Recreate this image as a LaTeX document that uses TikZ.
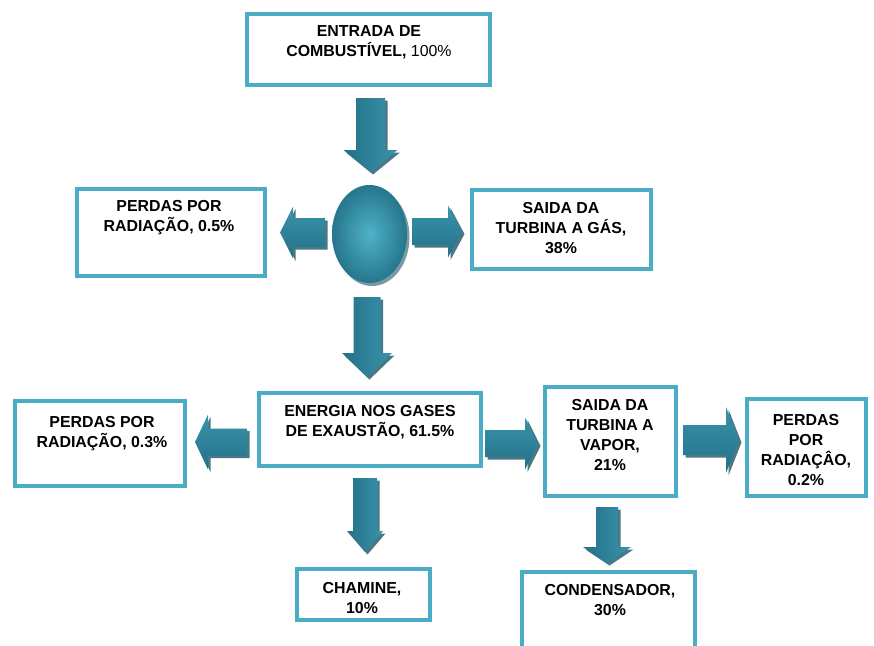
\documentclass[tikz,border=0pt]{standalone}
\usepackage{fontspec}
\setmainfont{Liberation Sans}
\usetikzlibrary{shapes.geometric}
\definecolor{boxc}{RGB}{75,172,198}
\definecolor{arrdark}{RGB}{36,112,134}
\definecolor{arrmid}{RGB}{56,148,172}
\definecolor{arrlight}{RGB}{82,180,202}
\definecolor{arrshad}{RGB}{30,86,104}
\definecolor{ellight}{RGB}{78,178,200}
\definecolor{eldark}{RGB}{38,118,140}
% vertical block arrow: cx, y tail, y head base, y tip, shaft half width, head half width
\newcommand\ArrVpath[6]{({#1-#5},#2) -- ({#1+#5},#2) -- ({#1+#5},#3) -- ({#1+#6},#3) -- (#1,#4) -- ({#1-#6},#3) -- ({#1-#5},#3) -- cycle}
% horizontal block arrow: cy, x tail, x head base, x tip, shaft half width, head half width
\newcommand\ArrHpath[6]{(#2,{#1-#5}) -- (#3,{#1-#5}) -- (#3,{#1-#6}) -- (#4,#1) -- (#3,{#1+#6}) -- (#3,{#1+#5}) -- (#2,{#1+#5}) -- cycle}
\newcommand\ArrV[6]{%
  \fill[arrshad,opacity=0.8,xshift=2.5pt,yshift=-2.5pt] \ArrVpath{#1}{#2}{#3}{#4}{#5}{#6};
  \shade[left color=arrdark,middle color=arrlight,right color=arrmid] \ArrVpath{#1}{#2}{#3}{#4}{#5}{#6};}
\newcommand\ArrH[6]{%
  \fill[arrshad,opacity=0.8,xshift=2.5pt,yshift=-2.5pt] \ArrHpath{#1}{#2}{#3}{#4}{#5}{#6};
  \shade[top color=arrmid,middle color=arrlight,bottom color=arrdark] \ArrHpath{#1}{#2}{#3}{#4}{#5}{#6};}
\begin{document}
\begin{tikzpicture}[x=1pt,y=-1pt,
  box/.style={draw=boxc,line width=4pt,fill=white,inner sep=0pt},
  txt/.style={font=\bfseries\fontsize{15.9}{20}\selectfont,align=center,inner sep=0pt,anchor=north}]
\useasboundingbox (0,0) rectangle (874,645);
\begin{scope}
\clip (0,0) rectangle (874,645);
% boxes
\node[box,minimum width=243pt,minimum height=71pt] (entrada) at (368.5,49.5) {};
\node[box,minimum width=188pt,minimum height=87pt] (rad1) at (171,232.5) {};
\node[box,minimum width=179pt,minimum height=79pt] (gas) at (561.5,229.5) {};
\node[box,minimum width=222pt,minimum height=73pt] (energia) at (370,429.5) {};
\node[box,minimum width=170pt,minimum height=85pt] (rad2) at (100,443.5) {};
\node[box,minimum width=131pt,minimum height=109pt] (vapor) at (610.5,441.5) {};
\node[box,minimum width=119pt,minimum height=97pt] (rad3) at (806.5,447.5) {};
\node[box,minimum width=133pt,minimum height=51pt] (chamine) at (363.5,594.5) {};
\node[box,minimum width=173pt,minimum height=108pt] (cond) at (608.5,626) {};
% central ellipse
\fill[arrshad,opacity=0.6] (372,237) ellipse [x radius=37.5pt,y radius=49pt];
\node[ellipse,inner sep=0pt,minimum width=75pt,minimum height=98pt,
      inner color=ellight,outer color=eldark] (comb) at (369.5,234) {};
% block arrows
\ArrV{370.5}{98}{150}{172}{14.5}{27}
\ArrH{232.5}{325}{293}{280}{14.5}{26}
\ArrH{231.5}{412}{448}{462}{13.5}{26}
\ArrV{367}{297}{353}{377}{13.5}{25}
\ArrH{442}{247}{208}{195}{13.5}{27.5}
\ArrH{443.5}{485}{525}{538}{13.5}{26}
\ArrV{365}{478}{531}{552}{12}{18}
\ArrH{440}{683}{726}{739}{15}{33}
\ArrV{607}{507}{547}{563}{11}{24}
% texts
\node[txt] (tEntrada) at (369,25.2) {ENTRADA DE\\COMBUSTÍVEL, {\mdseries 100\%}};
\node[txt] (tRad1) at (169,200.2) {PERDAS POR\\RADIAÇÃO, 0.5\%};
\node[txt] (tGas) at (561,202.2) {SAIDA DA\\TURBINA A GÁS,\\38\%};
\node[txt] (tEnergia) at (370,405.2) {ENERGIA NOS GASES\\DE EXAUSTÃO, 61.5\%};
\node[txt] (tRad2) at (102,416.2) {PERDAS POR\\RADIAÇÃO, 0.3\%};
\node[txt] (tVapor) at (610,399.2) {SAIDA DA\\TURBINA A\\VAPOR,\\21\%};
\node[txt] (tRad3) at (806,414.2) {PERDAS\\POR\\RADIAÇÂO,\\0.2\%};
\node[txt] (tChamine) at (362,582.2) {CHAMINE,\\10\%};
\node[txt] (tCond) at (610,584.2) {CONDENSADOR,\\30\%};
\end{scope}
\end{tikzpicture}
\end{document}
